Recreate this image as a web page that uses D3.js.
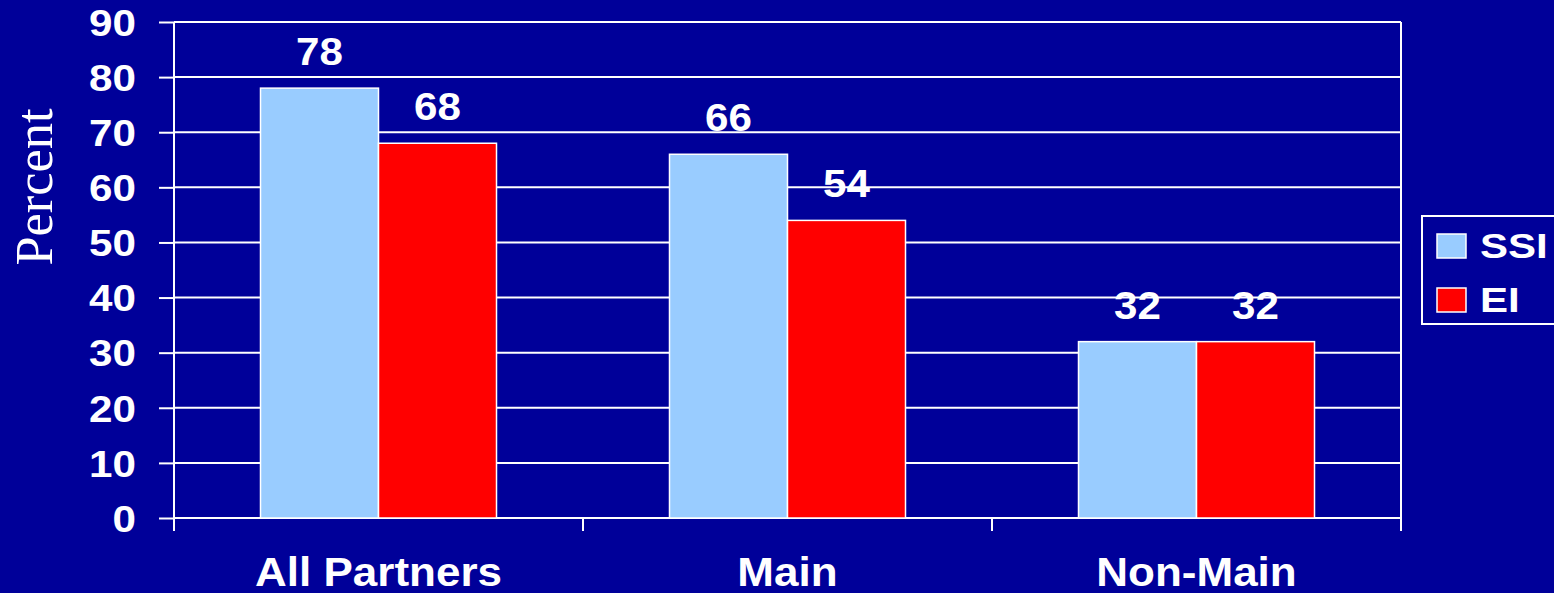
<!DOCTYPE html>
<html><head><meta charset="utf-8">
<script src="https://cdn.jsdelivr.net/npm/d3@7"></script>
<style>html,body{margin:0;padding:0;background:#000099;overflow:hidden}</style>
</head><body>
<svg id="c" width="1554" height="593"></svg>
<script>
const categories = ["All Partners", "Main", "Non-Main"];
const seriesNames = ["SSI", "EI"];
const ssiValues = [78, 66, 32];
const eiValues = [68, 54, 32];
const yTicks = [0, 10, 20, 30, 40, 50, 60, 70, 80, 90];
const colors = ["#99CCFF", "#FF0000"];

const FONT = "Liberation Sans, Arial, sans-serif";
function stretch(sel, f) {
  sel.each(function () {
    const w = this.getComputedTextLength();
    d3.select(this).attr("textLength", w * f).attr("lengthAdjust", "spacingAndGlyphs");
  });
}

const svg = d3.select("#c");
const L = 174, R = 1401, T = 22, B = 518;
svg.append("rect").attr("width", 1554).attr("height", 593).attr("fill", "#000099");

const x = d3.scaleBand().domain(categories).range([L, R]);
const xs = d3.scaleBand().domain(seriesNames).range([0, x.bandwidth()]).paddingOuter(0.733).paddingInner(0);
const y = d3.scaleLinear().domain([0, 90]).range([B, T]);

// gridlines
svg.append("g").selectAll("line").data(yTicks.slice(1)).join("line")
  .attr("x1", L).attr("x2", R).attr("y1", d => y(d)).attr("y2", d => y(d))
  .attr("stroke", "#fff").attr("stroke-width", 2);
svg.append("line").attr("x1", R).attr("x2", R).attr("y1", T).attr("y2", B).attr("stroke", "#fff").attr("stroke-width", 2);

// y axis
const yAxis = svg.append("g").attr("transform", `translate(${L},0)`)
  .call(d3.axisLeft(y).tickValues(yTicks).tickSize(15).tickPadding(23));
yAxis.select(".domain").attr("stroke", "#fff").attr("stroke-width", 2).attr("d", `M0,${y(90)}V${B + 13}`);
yAxis.selectAll(".tick line").attr("stroke", "#fff").attr("stroke-width", 2);
yAxis.selectAll(".tick text").attr("fill", "#fff").attr("font-family", FONT)
  .attr("font-weight", "bold").attr("font-size", 37).attr("dy", "0.36em");
stretch(yAxis.selectAll(".tick text"), 1.14);

// x axis
const xAxis = svg.append("g").attr("transform", `translate(0,${B})`);
xAxis.append("line").attr("x1", L).attr("x2", R).attr("stroke", "#fff").attr("stroke-width", 2);
const xTickPos = categories.map(c => x(c)).concat([R]);
xAxis.selectAll("line.tk").data(xTickPos).join("line").attr("class", "tk")
  .attr("x1", d => d).attr("x2", d => d).attr("y1", 0).attr("y2", 13)
  .attr("stroke", "#fff").attr("stroke-width", 2);
const catText = xAxis.selectAll("text").data(categories).join("text")
  .attr("x", d => x(d) + x.bandwidth() / 2).attr("y", 68)
  .attr("text-anchor", "middle").attr("fill", "#fff")
  .attr("font-family", FONT).attr("font-weight", "bold").attr("font-size", 40)
  .text(d => d);
stretch(catText, 1.1);

// bars
const data = categories.map((c, i) => ({cat: c, vals: [ssiValues[i], eiValues[i]]}));
const groups = svg.append("g").selectAll("g").data(data).join("g")
  .attr("transform", d => `translate(${x(d.cat)},0)`);
groups.selectAll("rect").data(d => d.vals.map((v, j) => ({s: seriesNames[j], v, j}))).join("rect")
  .attr("x", d => xs(d.s)).attr("width", xs.bandwidth())
  .attr("y", d => y(d.v)).attr("height", d => B - y(d.v))
  .attr("fill", d => colors[d.j]).attr("stroke", "#fff").attr("stroke-width", 1.5);
const valText = groups.selectAll("text").data(d => d.vals.map((v, j) => ({s: seriesNames[j], v, j}))).join("text")
  .attr("x", d => xs(d.s) + xs.bandwidth() / 2).attr("y", d => y(d.v) - 23)
  .attr("text-anchor", "middle").attr("fill", "#fff")
  .attr("font-family", FONT).attr("font-weight", "bold").attr("font-size", 39)
  .text(d => d.v);
stretch(valText, 1.08);

// y label
svg.append("text").attr("transform", "translate(52,187) rotate(-90)")
  .attr("text-anchor", "middle").attr("fill", "#fff")
  .attr("font-family", "Liberation Serif, Times New Roman, serif").attr("font-size", 53)
  .attr("textLength", 157).attr("lengthAdjust", "spacingAndGlyphs")
  .text("Percent");

// legend
const lg = svg.append("g").attr("transform", "translate(1422,216)");
lg.append("rect").attr("x", 0).attr("y", 0).attr("width", 140).attr("height", 108)
  .attr("fill", "#000099").attr("stroke", "#fff").attr("stroke-width", 2);
seriesNames.forEach((s, i) => {
  lg.append("rect").attr("x", 15).attr("y", 18 + i * 54).attr("width", 29).attr("height", 24)
    .attr("fill", colors[i]).attr("stroke", "#fff").attr("stroke-width", 1.5);
  const t = lg.append("text").attr("x", 58).attr("y", 42 + i * 54)
    .attr("fill", "#fff").attr("font-family", FONT)
    .attr("font-weight", "bold").attr("font-size", 35).text(s);
  stretch(t, 1.2);
});
</script>
</body></html>
